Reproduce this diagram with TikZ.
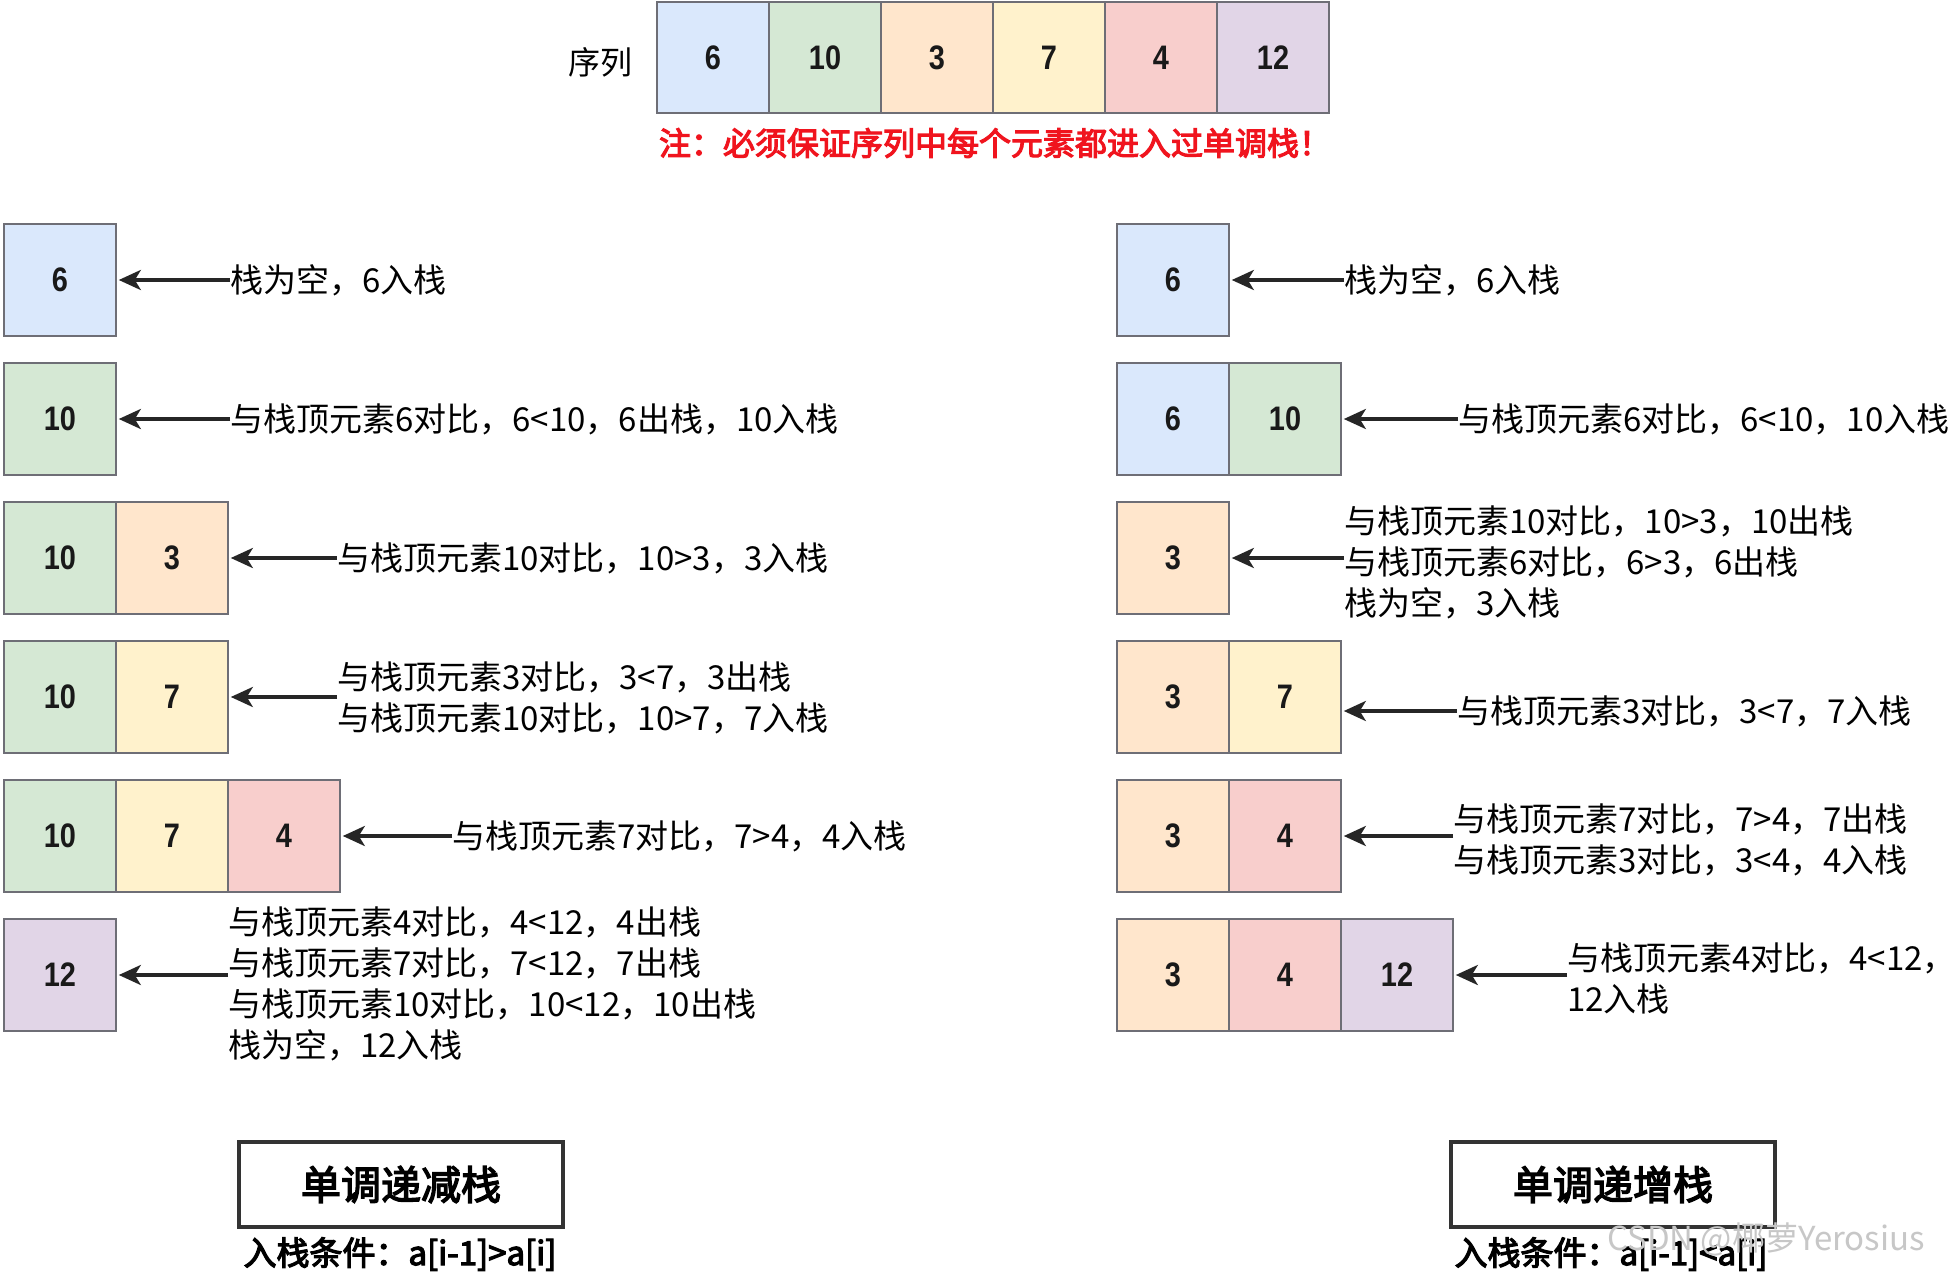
\documentclass[tikz,border=0pt]{standalone}
\usepackage{fontspec}
\setmainfont{Noto Sans CJK SC}
\newfontfamily\cjkb[FakeBold=3.5]{Noto Sans CJK SC}
\newfontfamily\numf[FakeStretch=0.85]{Liberation Sans}
\usetikzlibrary{arrows.meta}
\definecolor{cblue}{HTML}{DAE8FC}
\definecolor{cgreen}{HTML}{D5E8D4}
\definecolor{corange}{HTML}{FFE6CC}
\definecolor{cyellow}{HTML}{FFF2CC}
\definecolor{cred}{HTML}{F8CECC}
\definecolor{cpurple}{HTML}{E1D5E7}
\definecolor{cellline}{HTML}{6E6E76}
\definecolor{notered}{HTML}{F0141E}
\tikzset{
  cell/.style={draw=cellline, line width=1.6pt, minimum width=112pt, minimum height=112pt, inner sep=0pt,
    font=\numf\bfseries\fontsize{34}{34}\selectfont, text=black!90},
  seqcell/.style={cell, line width=2.2pt, minimum height=111pt},
  txt/.style={anchor=west, inner sep=0pt, align=left, font=\fontsize{33}{41}\selectfont},
  arr/.style={-{Stealth[length=22pt,width=20pt,inset=6pt]}, line width=3.5pt, draw=black!85, shorten >=2pt},
  titlebox/.style={draw=black!80, line width=4pt, minimum width=324pt, minimum height=85pt, inner sep=0pt,
    font=\cjkb\fontsize{40}{40}\selectfont},
  cond/.style={inner sep=0pt, font=\cjkb\fontsize{33}{33}\selectfont}
}
\begin{document}
\begin{tikzpicture}[x=1pt,y=-1pt]
\fill[white] (0,0) rectangle (1953,1273);
\useasboundingbox (0,0) rectangle (1953,1273);

% sequence
\node[font=\fontsize{32}{32}\selectfont, inner sep=0pt] (seqlabel) at (600,62) {序列};
\node[seqcell, fill=cblue]   (s1) at (713,57.5) {6};
\node[seqcell, fill=cgreen]  (s2) at (825,57.5) {10};
\node[seqcell, fill=corange] (s3) at (937,57.5) {3};
\node[seqcell, fill=cyellow] (s4) at (1049,57.5) {7};
\node[seqcell, fill=cred]    (s5) at (1161,57.5) {4};
\node[seqcell, fill=cpurple] (s6) at (1273,57.5) {12};
\node[inner sep=0pt, text=notered, font=\cjkb\fontsize{32}{32}\selectfont] (note) at (995,143) {注：必须保证序列中每个元素都进入过单调栈！};

% left column (monotonic decreasing)
\node[cell, fill=cblue]   (L1a) at (60,280) {6};
\node[cell, fill=cgreen]  (L2a) at (60,419) {10};
\node[cell, fill=cgreen]  (L3a) at (60,558) {10};
\node[cell, fill=corange] (L3b) at (172,558) {3};
\node[cell, fill=cgreen]  (L4a) at (60,697) {10};
\node[cell, fill=cyellow] (L4b) at (172,697) {7};
\node[cell, fill=cgreen]  (L5a) at (60,836) {10};
\node[cell, fill=cyellow] (L5b) at (172,836) {7};
\node[cell, fill=cred]    (L5c) at (284,836) {4};
\node[cell, fill=cpurple] (L6a) at (60,975) {12};

\node[txt] (tL1) at (230,280) {栈为空，6入栈};
\node[txt] (tL2) at (230,419) {与栈顶元素6对比，6<10，6出栈，10入栈};
\node[txt] (tL3) at (337,558) {与栈顶元素10对比，10>3，3入栈};
\node[txt] (tL4) at (337,698) {与栈顶元素3对比，3<7，3出栈\\与栈顶元素10对比，10>7，7入栈};
\node[txt] (tL5) at (452,836) {与栈顶元素7对比，7>4，4入栈};
\node[txt] (tL6) at (228,984) {与栈顶元素4对比，4<12，4出栈\\与栈顶元素7对比，7<12，7出栈\\与栈顶元素10对比，10<12，10出栈\\栈为空，12入栈};

\draw[arr] (tL1.west) -- (L1a.east);
\draw[arr] (tL2.west) -- (L2a.east);
\draw[arr] (tL3.west) -- (L3b.east);
\draw[arr] (tL4.west |- L4b.east) -- (L4b.east);
\draw[arr] (tL5.west) -- (L5c.east);
\draw[arr] (tL6.west |- L6a.east) -- (L6a.east);

% right column (monotonic increasing)
\node[cell, fill=cblue]   (R1a) at (1173,280) {6};
\node[cell, fill=cblue]   (R2a) at (1173,419) {6};
\node[cell, fill=cgreen]  (R2b) at (1285,419) {10};
\node[cell, fill=corange] (R3a) at (1173,558) {3};
\node[cell, fill=corange] (R4a) at (1173,697) {3};
\node[cell, fill=cyellow] (R4b) at (1285,697) {7};
\node[cell, fill=corange] (R5a) at (1173,836) {3};
\node[cell, fill=cred]    (R5b) at (1285,836) {4};
\node[cell, fill=corange] (R6a) at (1173,975) {3};
\node[cell, fill=cred]    (R6b) at (1285,975) {4};
\node[cell, fill=cpurple] (R6c) at (1397,975) {12};

\node[txt] (tR1) at (1344,280) {栈为空，6入栈};
\node[txt] (tR2) at (1458,419) {与栈顶元素6对比，6<10，10入栈};
\node[txt] (tR3) at (1344,562) {与栈顶元素10对比，10>3，10出栈\\与栈顶元素6对比，6>3，6出栈\\栈为空，3入栈};
\node[txt] (tR4) at (1457,711) {与栈顶元素3对比，3<7，7入栈};
\node[txt] (tR5) at (1453,840) {与栈顶元素7对比，7>4，7出栈\\与栈顶元素3对比，3<4，4入栈};
\node[txt] (tR6) at (1567,978) {与栈顶元素4对比，4<12，\\12入栈};

\draw[arr] (tR1.west) -- (R1a.east);
\draw[arr] (tR2.west) -- (R2b.east);
\draw[arr] (tR3.west |- R3a.east) -- (R3a.east);
\draw[arr] (tR4.west) -- (R4b.east |- tR4.west);
\draw[arr] (tR5.west |- R5b.east) -- (R5b.east);
\draw[arr] (tR6.west |- R6c.east) -- (R6c.east);

% titles
\node[titlebox] (dec) at (401,1184.5) {单调递减栈};
\node[cond] (decc) at (400,1254) {入栈条件：a[i-1]>a[i]};
\node[titlebox] (inc) at (1613,1184.5) {单调递增栈};
\node[cond] (incc) at (1611,1254) {入栈条件：a[i-1]<a[i]};

% watermark
\node[inner sep=0pt, text=black!22, font=\fontsize{33}{33}\selectfont] (wm) at (1766,1239) {CSDN @椰萝Yerosius};
\end{tikzpicture}
\end{document}
